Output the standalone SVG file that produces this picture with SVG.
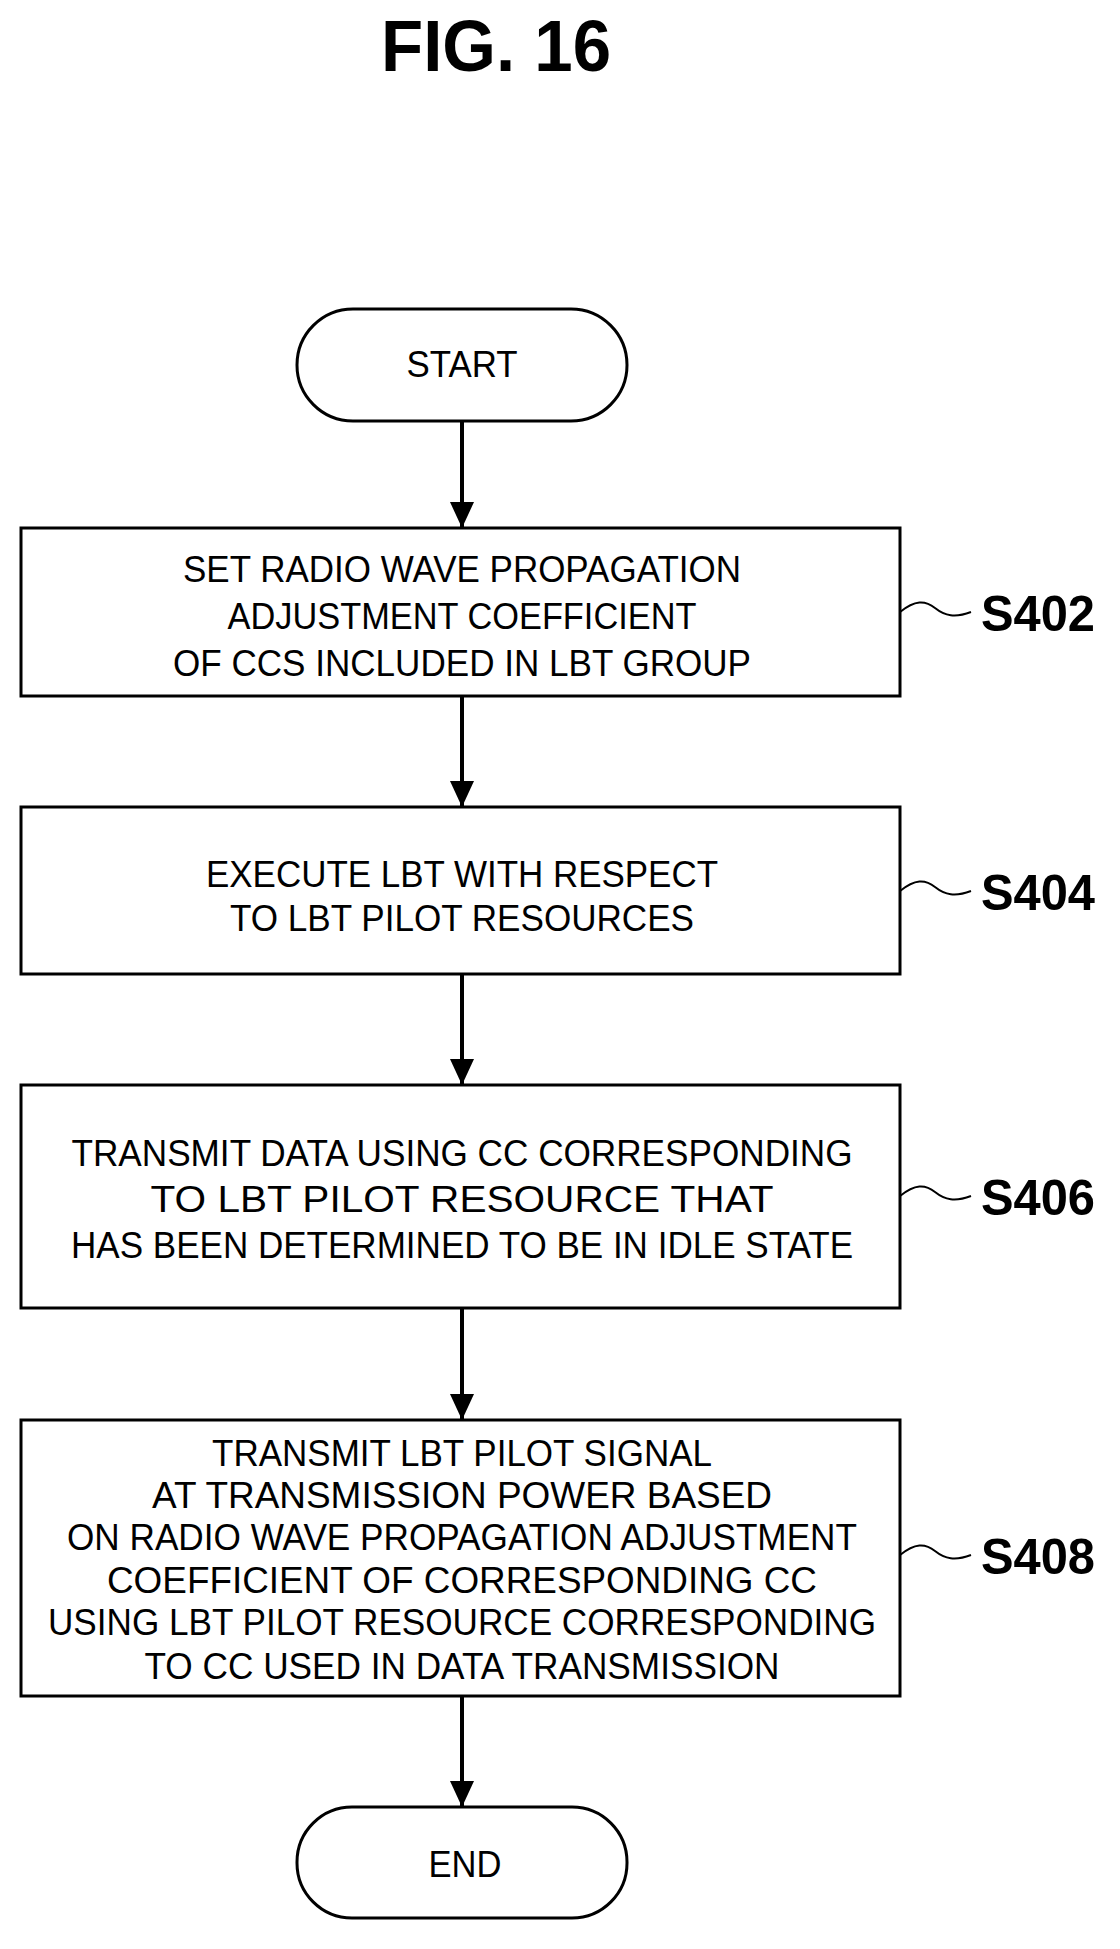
<svg xmlns="http://www.w3.org/2000/svg" width="1120" height="1949" viewBox="0 0 1120 1949">
<style>
.b{fill:#fff;stroke:#000;stroke-width:3}
.t{font-family:"Liberation Sans",Arial,sans-serif;font-size:36px;text-anchor:middle;fill:#000}
.l{font-family:"Liberation Sans",Arial,sans-serif;font-size:50px;font-weight:bold;fill:#000}
.c{stroke:#000;stroke-width:4;fill:none}
.s{stroke:#000;stroke-width:2;fill:none}
</style>
<defs><marker id="m" markerWidth="26" markerHeight="26" refX="26" refY="13" orient="auto" markerUnits="userSpaceOnUse" viewBox="0 0 26 26"><path d="M0,1L26,13L0,25z" fill="#000"/></marker></defs>
<rect width="1120" height="1949" fill="#fff"/>
<text x="496" y="71" font-family="Liberation Sans,Arial,sans-serif" font-size="72" font-weight="bold" text-anchor="middle" textLength="230" lengthAdjust="spacingAndGlyphs">FIG. 16</text>
<g id="connectors">
<line class="c" x1="462" y1="421" x2="462" y2="528" marker-end="url(#m)"/>
<line class="c" x1="462" y1="696" x2="462" y2="807" marker-end="url(#m)"/>
<line class="c" x1="462" y1="974" x2="462" y2="1085" marker-end="url(#m)"/>
<line class="c" x1="462" y1="1308" x2="462" y2="1420" marker-end="url(#m)"/>
<line class="c" x1="462" y1="1696" x2="462" y2="1807" marker-end="url(#m)"/>
</g>
<g id="start"><rect class="b" x="297" y="309" width="330" height="112" rx="56"/><text class="t" x="462" y="377" textLength="111" lengthAdjust="spacingAndGlyphs">START</text></g>
<g id="s402"><rect class="b" x="21" y="528" width="879" height="168"/>
<text class="t" x="462" y="582" textLength="558" lengthAdjust="spacingAndGlyphs">SET RADIO WAVE PROPAGATION</text>
<text class="t" x="462" y="629" textLength="469" lengthAdjust="spacingAndGlyphs">ADJUSTMENT COEFFICIENT</text>
<text class="t" x="462" y="676" textLength="578" lengthAdjust="spacingAndGlyphs">OF CCS INCLUDED IN LBT GROUP</text>
<path class="s" d="M900,612 C915,600 925,600 935,608 S955,618 971,612"/>
<text class="l" x="981" y="631" textLength="114" lengthAdjust="spacingAndGlyphs">S402</text></g>
<g id="s404"><rect class="b" x="21" y="807" width="879" height="167"/>
<text class="t" x="462" y="887" textLength="512" lengthAdjust="spacingAndGlyphs">EXECUTE LBT WITH RESPECT</text>
<text class="t" x="462" y="931" textLength="464" lengthAdjust="spacingAndGlyphs">TO LBT PILOT RESOURCES</text>
<path class="s" d="M900,891 C915,879 925,879 935,887 S955,897 971,891"/>
<text class="l" x="981" y="910" textLength="114" lengthAdjust="spacingAndGlyphs">S404</text></g>
<g id="s406"><rect class="b" x="21" y="1085" width="879" height="223"/>
<text class="t" x="462" y="1166" textLength="781" lengthAdjust="spacingAndGlyphs">TRANSMIT DATA USING CC CORRESPONDING</text>
<text class="t" x="462" y="1212" textLength="623" lengthAdjust="spacingAndGlyphs">TO LBT PILOT RESOURCE THAT</text>
<text class="t" x="462" y="1258" textLength="782" lengthAdjust="spacingAndGlyphs">HAS BEEN DETERMINED TO BE IN IDLE STATE</text>
<path class="s" d="M900,1196 C915,1184 925,1184 935,1192 S955,1202 971,1196"/>
<text class="l" x="981" y="1215" textLength="114" lengthAdjust="spacingAndGlyphs">S406</text></g>
<g id="s408"><rect class="b" x="21" y="1420" width="879" height="276"/>
<text class="t" x="462" y="1466" textLength="500" lengthAdjust="spacingAndGlyphs">TRANSMIT LBT PILOT SIGNAL</text>
<text class="t" x="462" y="1508" textLength="620" lengthAdjust="spacingAndGlyphs">AT TRANSMISSION POWER BASED</text>
<text class="t" x="462" y="1550" textLength="790" lengthAdjust="spacingAndGlyphs">ON RADIO WAVE PROPAGATION ADJUSTMENT</text>
<text class="t" x="462" y="1593" textLength="710" lengthAdjust="spacingAndGlyphs">COEFFICIENT OF CORRESPONDING CC</text>
<text class="t" x="462" y="1635" textLength="828" lengthAdjust="spacingAndGlyphs">USING LBT PILOT RESOURCE CORRESPONDING</text>
<text class="t" x="462" y="1679" textLength="635" lengthAdjust="spacingAndGlyphs">TO CC USED IN DATA TRANSMISSION</text>
<path class="s" d="M900,1555 C915,1543 925,1543 935,1551 S955,1561 971,1555"/>
<text class="l" x="981" y="1574" textLength="114" lengthAdjust="spacingAndGlyphs">S408</text></g>
<g id="end"><rect class="b" x="297" y="1807" width="330" height="111" rx="55"/><text class="t" x="465" y="1877" textLength="73" lengthAdjust="spacingAndGlyphs">END</text></g>
</svg>
